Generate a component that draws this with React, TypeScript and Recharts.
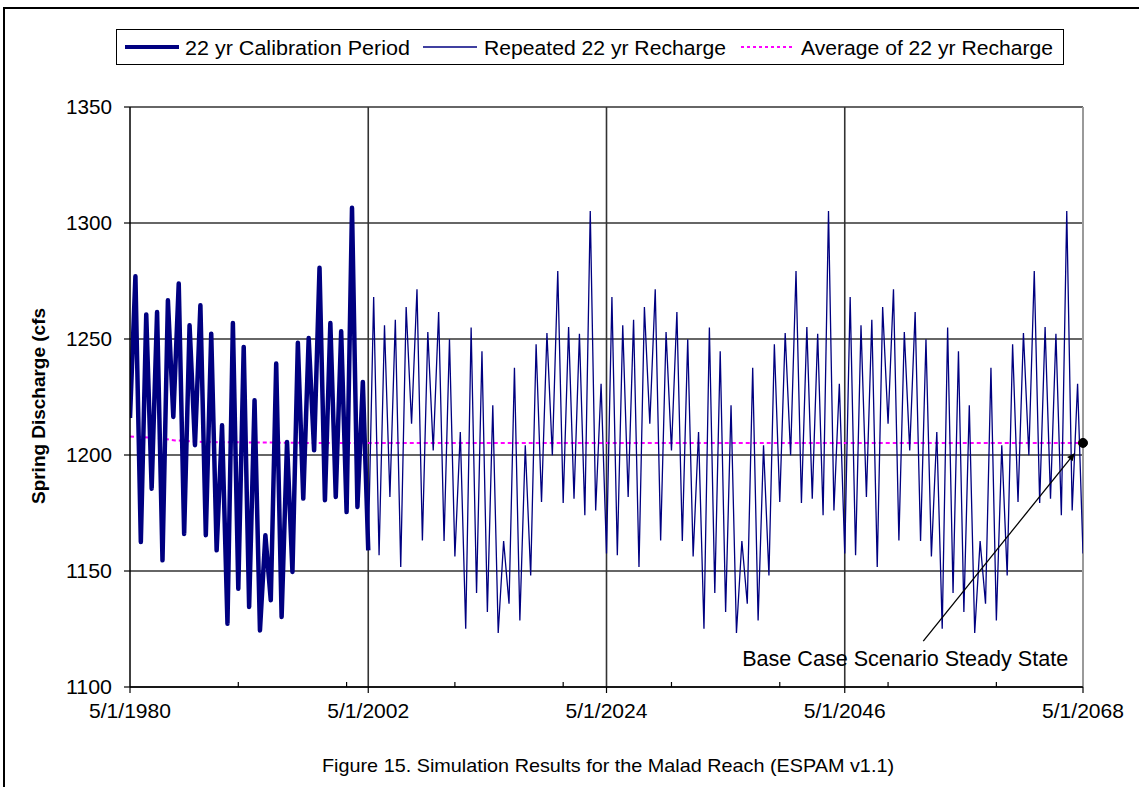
import React from 'react';
import {
  LineChart,
  Line,
  XAxis,
  YAxis,
  CartesianGrid,
  ReferenceDot,
  ReferenceLine,
} from 'recharts';

// x = months after 5/1/1980
const START_YEAR = 1980;
const CYCLE_MONTHS = 264; // 22 yr

// calibration period 1980-2002 (yearly peak / trough)
const calibStart = 1216;
const calibPeaks = [
  1277, 1260.6, 1261.6, 1266.7, 1273.9, 1255.9, 1264.5, 1252.3, 1212.8, 1256.9, 1246.6,
  1223.6, 1165.4, 1239.4, 1205.6, 1248.4, 1250.4, 1280.7, 1256.9, 1253.3, 1306.6, 1231.5,
];
const calibTroughs = [
  1162.5, 1185.5, 1154.6, 1216.4, 1166, 1204.2, 1165.4, 1158.9, 1127.3, 1142.4, 1134.5,
  1124.4, 1137.4, 1130.2, 1149.6, 1181.2, 1202, 1180.5, 1181.9, 1175.4, 1177.6, 1158.9,
];

// one 22 yr cycle of the repeated recharge (same for 2002, 2024, 2046)
const repeatPeaks = [
  1268.1, 1255.9, 1258.3, 1263.8, 1271.4, 1253, 1261.6, 1249.9, 1209.9, 1254.9, 1244.7,
  1221.4, 1162.9, 1237.6, 1204.2, 1247.7, 1252.6, 1279.3, 1255.2, 1252.3, 1305.2, 1230.7,
];
const repeatTroughs = [
  1156.8, 1181.9, 1151.7, 1213.5, 1163.2, 1202, 1162.9, 1156.3, 1125.1, 1140.5, 1132.3,
  1123.3, 1135.9, 1128.7, 1148.1, 1179.7, 1199.9, 1179.3, 1181.2, 1174, 1176.1, 1157.5,
];
const repeatCycles = 3;

// average of 22 yr recharge
const avgMonths = [0, 30, 50, 80, 200, 1056];
const avgValues = [1208, 1207.3, 1206.3, 1205.6, 1205.2, 1205.2];

const yTicks = [1100, 1150, 1200, 1250, 1300, 1350];
const majorTicks = [0, 264, 528, 792, 1056];
const minorTicks = [120, 240, 360, 480, 600, 720, 840, 960];

const steadyState = { m: 1056, v: 1205.2 };
const arrowFrom = { m: 879, v: 1119.8 };
const arrowTo = { m: 1047, v: 1200.9 };
const noteAt = { m: 859, v: 1109.2 };

const FONT = '"Liberation Sans", Arial, sans-serif';
const NAVY = '#000080';

function zigzag(startM: number, peaks: number[], troughs: number[]) {
  return peaks.flatMap((p, i) => [
    { m: startM + 12 * i + 6, v: p },
    { m: startM + 12 * (i + 1), v: troughs[i] },
  ]);
}

const calibData = [{ m: 0, v: calibStart }, ...zigzag(0, calibPeaks, calibTroughs)];

const repeatData = [{ m: CYCLE_MONTHS, v: calibTroughs[calibTroughs.length - 1] }];
for (let c = 1; c <= repeatCycles; c++) {
  repeatData.push(...zigzag(c * CYCLE_MONTHS, repeatPeaks, repeatTroughs));
}

const avgData = avgMonths.map((m, i) => ({ m, v: avgValues[i] }));

const XTick = (props: any) => {
  const { x, y, payload } = props;
  const v = payload.value;
  const major = majorTicks.includes(v);
  if (!major) {
    return <line x1={x} x2={x} y1={y} y2={y - 5} stroke="#000" strokeWidth={1.2} />;
  }
  return (
    <g>
      <line x1={x} x2={x} y1={y} y2={y + 6} stroke="#000" strokeWidth={1.2} />
      <text
        x={x}
        y={y + 16}
        dy="0.71em"
        textAnchor="middle"
        fontSize={21}
        fontFamily={FONT}
        fill="#000"
        textLength={82}
        lengthAdjust="spacingAndGlyphs"
      >
        {`5/1/${START_YEAR + v / 12}`}
      </text>
    </g>
  );
};

const YTick = (props: any) => {
  const { x, y, payload } = props;
  return (
    <text
      x={x}
      y={y}
      dy="0.355em"
      textAnchor="end"
      fontSize={21}
      fontFamily={FONT}
      fill="#000"
      textLength={46}
      lengthAdjust="spacingAndGlyphs"
    >
      {payload.value}
    </text>
  );
};

const ArrowShape = (p: any) => {
  const { x1, y1, x2, y2 } = p;
  const a = Math.atan2(y2 - y1, x2 - x1);
  const len = 8;
  const w = 3.5;
  const bx = x2 - len * Math.cos(a);
  const by = y2 - len * Math.sin(a);
  const px = -Math.sin(a) * w;
  const py = Math.cos(a) * w;
  return (
    <g>
      <line x1={x1} y1={y1} x2={bx} y2={by} stroke="#000" strokeWidth={1.3} />
      <polygon points={`${x2},${y2} ${bx + px},${by + py} ${bx - px},${by - py}`} fill="#000" />
    </g>
  );
};

const NoteShape = (p: any) => (
  <text
    x={p.cx}
    y={p.cy}
    textAnchor="middle"
    fontSize={21.5}
    fontFamily={FONT}
    fill="#000"
    textLength={326}
    lengthAdjust="spacingAndGlyphs"
  >
    Base Case Scenario Steady State
  </text>
);

const vGrid = ({ xAxis, offset }: any) =>
  majorTicks
    .filter((t) => t > 0 && t < 1056)
    .map((t) =>
      typeof xAxis?.scale === 'function'
        ? xAxis.scale(t)
        : offset.left + (t / 1056) * offset.width,
    );

export default function App() {
  return (
    <div
      style={{
        position: 'fixed',
        left: 0,
        top: 0,
        width: 1139,
        height: 787,
        background: '#fff',
        overflow: 'hidden',
        fontFamily: FONT,
      }}
    >
      {/* frame of the figure */}
      <div
        style={{
          position: 'absolute',
          left: 3,
          top: 7,
          width: 1200,
          height: 900,
          border: '2px solid #000',
        }}
      />
      <div style={{ position: 'absolute', left: 0, top: 0 }}>
        <LineChart
          width={1139}
          height={787}
          margin={{ top: 107, right: 56, bottom: 60, left: 60 }}
        >
          <CartesianGrid
            stroke="#333"
            strokeWidth={1.6}
            verticalCoordinatesGenerator={vGrid}
          />
          <XAxis
            type="number"
            dataKey="m"
            domain={[0, 1056]}
            ticks={[...majorTicks, ...minorTicks].sort((a, b) => a - b)}
            interval={0}
            height={40}
            tickSize={0}
            tickMargin={0}
            tickLine={false}
            tick={<XTick />}
            axisLine={{ stroke: '#000', strokeWidth: 1.5 }}
            allowDataOverflow
          />
          <YAxis
            type="number"
            domain={[1100, 1350]}
            ticks={yTicks}
            interval={0}
            width={70}
            tickSize={6}
            tickMargin={12}
            tickLine={{ stroke: '#000', strokeWidth: 1.2 }}
            tick={<YTick />}
            axisLine={{ stroke: '#000', strokeWidth: 1.5 }}
            allowDataOverflow
          />
          <ReferenceLine x={1056} stroke="#9a9a9a" strokeWidth={2} />
          <Line
            data={avgData}
            dataKey="v"
            type="linear"
            stroke="#ff00ff"
            strokeWidth={2}
            strokeDasharray="4 3"
            dot={false}
            isAnimationActive={false}
          />
          <Line
            data={repeatData}
            dataKey="v"
            type="linear"
            stroke={NAVY}
            strokeWidth={1.3}
            dot={false}
            isAnimationActive={false}
          />
          <Line
            data={calibData}
            dataKey="v"
            type="linear"
            stroke={NAVY}
            strokeWidth={4.5}
            strokeLinejoin="round"
            dot={false}
            isAnimationActive={false}
          />
          <ReferenceLine
            segment={[
              { x: arrowFrom.m, y: arrowFrom.v },
              { x: arrowTo.m, y: arrowTo.v },
            ]}
            shape={ArrowShape}
          />
          <ReferenceDot x={steadyState.m} y={steadyState.v} r={4.5} fill="#000" stroke="#000" />
          <ReferenceDot x={noteAt.m} y={noteAt.v} shape={NoteShape} />
        </LineChart>
      </div>
      {/* legend, axis title, caption */}
      <svg
        width={1139}
        height={787}
        style={{ position: 'absolute', left: 0, top: 0, pointerEvents: 'none' }}
      >
        <rect x={116.5} y={29.5} width={947} height={35} fill="#fff" stroke="#000" strokeWidth={1} />
        <line x1={125} x2={179} y1={47} y2={47} stroke={NAVY} strokeWidth={4} />
        <text x={185} y={54.5} fontSize={20.5} fontFamily={FONT} textLength={225} lengthAdjust="spacingAndGlyphs">
          22 yr Calibration Period
        </text>
        <line x1={423} x2={477} y1={47} y2={47} stroke={NAVY} strokeWidth={1.3} />
        <text x={484} y={54.5} fontSize={20.5} fontFamily={FONT} textLength={242} lengthAdjust="spacingAndGlyphs">
          Repeated 22 yr Recharge
        </text>
        <line x1={741} x2={793} y1={47} y2={47} stroke="#ff00ff" strokeWidth={2} strokeDasharray="3 3" />
        <text x={801} y={54.5} fontSize={20.5} fontFamily={FONT} textLength={252} lengthAdjust="spacingAndGlyphs">
          Average of 22 yr Recharge
        </text>
        <text
          x={38}
          y={406}
          transform="rotate(-90 38 406)"
          textAnchor="middle"
          dy="0.35em"
          fontSize={19}
          fontWeight="bold"
          fontFamily={FONT}
          textLength={196}
          lengthAdjust="spacingAndGlyphs"
        >
          Spring Discharge (cfs
        </text>
        <text
          x={608}
          y={772}
          textAnchor="middle"
          fontSize={19}
          fontFamily={FONT}
          textLength={572}
          lengthAdjust="spacingAndGlyphs"
        >
          Figure 15. Simulation Results for the Malad Reach (ESPAM v1.1)
        </text>
      </svg>
    </div>
  );
}
